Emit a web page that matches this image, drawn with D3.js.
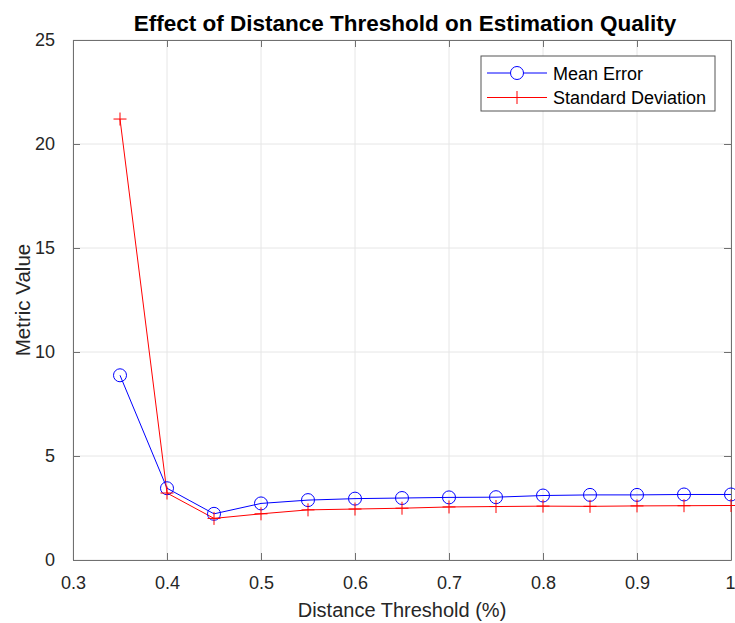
<!DOCTYPE html>
<html>
<head>
<meta charset="utf-8">
<script src="https://cdn.jsdelivr.net/npm/d3@7"></script>
<style>
  body { margin: 0; background: #fff; }
  svg text { font-family: "Liberation Sans", Arial, Helvetica, sans-serif; }
</style>
</head>
<body>
<div id="chart"></div>
<script>
const thresholds = [0.35, 0.40, 0.45, 0.50, 0.55, 0.60, 0.65, 0.70, 0.75, 0.80, 0.85, 0.90, 0.95, 1.00];
const meanError = [8.88, 3.45, 2.22, 2.72, 2.88, 2.95, 2.98, 3.01, 3.02, 3.10, 3.13, 3.13, 3.15, 3.15];
const stdDev = [21.2, 3.22, 2.0, 2.22, 2.41, 2.45, 2.49, 2.55, 2.57, 2.59, 2.58, 2.6, 2.61, 2.62];
const xTicks = [0.3, 0.4, 0.5, 0.6, 0.7, 0.8, 0.9, 1];
const yTicks = [0, 5, 10, 15, 20, 25];
const seriesNames = ["Mean Error", "Standard Deviation"];

const width = 735;
const height = 623;
const margin = {top: 40, right: 4, bottom: 63, left: 73};
const innerW = width - margin.left - margin.right;
const innerH = height - margin.top - margin.bottom;
const axisColor = "#707070";
const gridColor = "#e6e6e6";
const tickLen = 7;

const x = d3.scaleLinear().domain([0.3, 1]).range([0, innerW]);
const y = d3.scaleLinear().domain([0, 25]).range([innerH, 0]);

const svg = d3.select("#chart")
    .append("svg")
    .attr("width", width)
    .attr("height", height);

const g = svg.append("g")
    .attr("transform", `translate(${margin.left}, ${margin.top})`);

// grid
g.selectAll(".vgrid")
    .data(xTicks)
    .enter()
    .append("line")
    .attr("x1", d => x(d)).attr("x2", d => x(d))
    .attr("y1", 0).attr("y2", innerH)
    .attr("stroke", gridColor)
    .attr("stroke-width", 1);
g.selectAll(".hgrid")
    .data(yTicks)
    .enter()
    .append("line")
    .attr("x1", 0).attr("x2", innerW)
    .attr("y1", d => y(d)).attr("y2", d => y(d))
    .attr("stroke", gridColor)
    .attr("stroke-width", 1);

// axes (ticks inward, box on)
const fmt = d => d === 1 ? "1" : d3.format(".1f")(d);
const xAxis = g.append("g")
    .attr("transform", `translate(0, ${innerH})`)
    .call(d3.axisBottom(x).tickValues(xTicks).tickFormat(fmt).tickSizeInner(-tickLen).tickSizeOuter(0).tickPadding(16));
const xTop = g.append("g")
    .call(d3.axisTop(x).tickValues(xTicks).tickFormat("").tickSizeInner(-tickLen).tickSizeOuter(0));
const yAxis = g.append("g")
    .call(d3.axisLeft(y).tickValues(yTicks).tickSizeInner(-tickLen).tickSizeOuter(0).tickPadding(18));
const yRight = g.append("g")
    .attr("transform", `translate(${innerW}, 0)`)
    .call(d3.axisRight(y).tickValues(yTicks).tickFormat("").tickSizeInner(-tickLen).tickSizeOuter(0));

[xAxis, xTop, yAxis, yRight].forEach(a => {
    a.select(".domain").attr("stroke", axisColor);
    a.selectAll(".tick line").attr("stroke", axisColor);
    a.selectAll(".tick text")
        .attr("fill", "#262626")
        .style("font-size", "18px");
});
// last x label sits against the right edge
xAxis.selectAll(".tick text").filter(d => d === 1).attr("text-anchor", "end").attr("dx", "4px");

// lines
const line = d3.line()
    .x((d, i) => x(thresholds[i]))
    .y(d => y(d));

g.append("path")
    .datum(meanError)
    .attr("fill", "none")
    .attr("stroke", "#0000ff")
    .attr("stroke-width", 1)
    .attr("d", line);

g.append("path")
    .datum(stdDev)
    .attr("fill", "none")
    .attr("stroke", "#ff0000")
    .attr("stroke-width", 1)
    .attr("d", line);

// markers
g.selectAll(".circ")
    .data(meanError)
    .enter()
    .append("circle")
    .attr("cx", (d, i) => x(thresholds[i]))
    .attr("cy", d => y(d))
    .attr("r", 6.5)
    .attr("fill", "none")
    .attr("stroke", "#0000ff")
    .attr("stroke-width", 1);

g.selectAll(".plus")
    .data(stdDev)
    .enter()
    .append("path")
    .attr("d", (d, i) => {
        const cx = x(thresholds[i]), cy = y(d), s = 6.5;
        return `M${cx - s},${cy}H${cx + s}M${cx},${cy - s}V${cy + s}`;
    })
    .attr("stroke", "#ff0000")
    .attr("stroke-width", 1);

// labels
svg.append("text")
    .attr("x", margin.left + innerW / 2 + 3)
    .attr("y", 31)
    .attr("text-anchor", "middle")
    .style("font-size", "22.5px")
    .style("font-weight", "bold")
    .attr("fill", "#000")
    .text("Effect of Distance Threshold on Estimation Quality");

svg.append("text")
    .attr("x", margin.left + innerW / 2)
    .attr("y", 617)
    .attr("text-anchor", "middle")
    .style("font-size", "20px")
    .attr("fill", "#262626")
    .text("Distance Threshold (%)");

svg.append("text")
    .attr("transform", `translate(30, ${margin.top + innerH / 2}) rotate(-90)`)
    .attr("text-anchor", "middle")
    .style("font-size", "20.5px")
    .attr("fill", "#262626")
    .text("Metric Value");

// legend
const legend = svg.append("g").attr("transform", "translate(481, 56)");
legend.append("rect")
    .attr("width", 234)
    .attr("height", 55)
    .attr("fill", "#fff")
    .attr("stroke", "#555")
    .attr("stroke-width", 1);

const rows = legend.selectAll(".row")
    .data(seriesNames)
    .enter()
    .append("g")
    .attr("transform", (d, i) => `translate(0, ${17 + i * 24.5})`);
rows.append("line")
    .attr("x1", 6).attr("x2", 66)
    .attr("stroke", (d, i) => i === 0 ? "#0000ff" : "#ff0000")
    .attr("stroke-width", 1);
rows.filter((d, i) => i === 0).append("circle")
    .attr("cx", 36).attr("r", 6.5)
    .attr("fill", "#fff")
    .attr("stroke", "#0000ff");
rows.filter((d, i) => i === 1).append("path")
    .attr("d", "M29.5,0H42.5M36,-6.5V6.5")
    .attr("stroke", "#ff0000");
rows.append("text")
    .attr("x", 72)
    .attr("y", 6.5)
    .style("font-size", "18px")
    .attr("fill", "#000")
    .text(d => d);
</script>
</body>
</html>
